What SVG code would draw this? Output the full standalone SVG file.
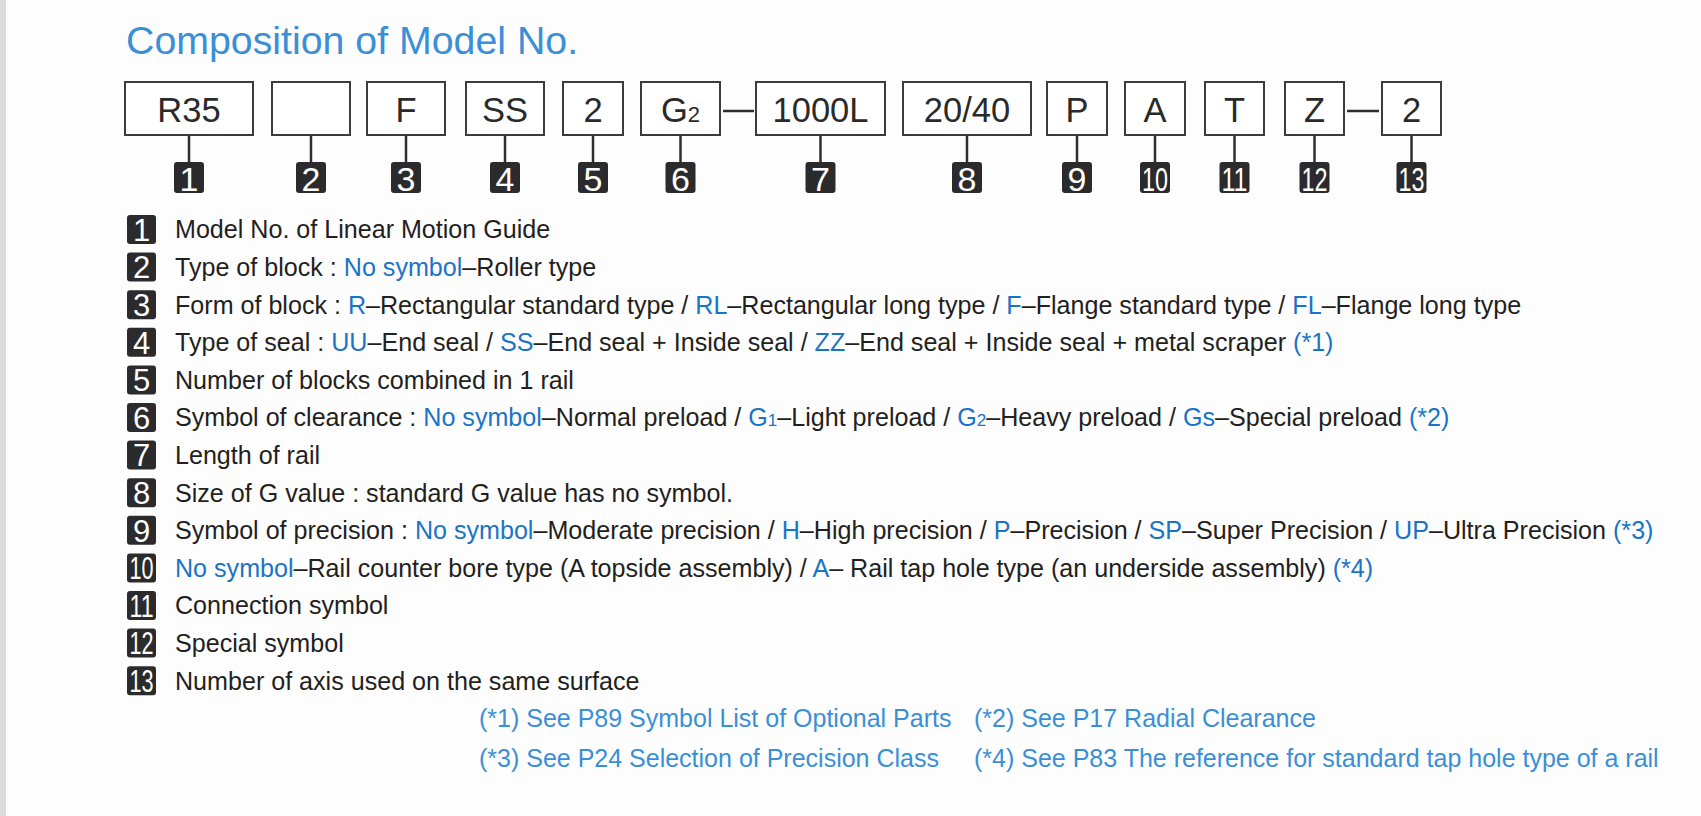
<svg xmlns="http://www.w3.org/2000/svg" width="1701" height="816" viewBox="0 0 1701 816">
<style>
.t{font-family:"Liberation Sans",Arial,sans-serif;font-size:25.1px;fill:#231f20}
.b{fill:#1a74c6}
.fn{font-family:"Liberation Sans",Arial,sans-serif;font-size:25px;fill:#3a8fd6}
.box{fill:#ffffff;stroke:#3c3c3c;stroke-width:2}
.bt{font-family:"Liberation Sans",Arial,sans-serif;font-size:34.5px;fill:#2a2a2a;text-anchor:middle}
.badge{fill:#2b2b2e}
.bn{font-family:"Liberation Sans",Arial,sans-serif;font-size:34px;fill:#ffffff;text-anchor:middle}
.ln{font-family:"Liberation Sans",Arial,sans-serif;font-size:31px;fill:#ffffff;text-anchor:middle}
.con{stroke:#2e2e2e;stroke-width:2.5;fill:none}
</style>
<rect x="0" y="0" width="1701" height="816" fill="#fdfdfd"/>
<rect x="0" y="0" width="6" height="816" fill="#dcdcdf"/>
<text x="126" y="53.5" font-family="Liberation Sans, Arial, sans-serif" font-size="39.3" fill="#3a8fd6">Composition of Model No.</text>

<g id="connectors">
<line class="con" x1="189" y1="135" x2="189" y2="162"/>
<line class="con" x1="311" y1="135" x2="311" y2="162"/>
<line class="con" x1="406" y1="135" x2="406" y2="162"/>
<line class="con" x1="505" y1="135" x2="505" y2="162"/>
<line class="con" x1="593" y1="135" x2="593" y2="162"/>
<line class="con" x1="680.5" y1="135" x2="680.5" y2="162"/>
<line class="con" x1="820.5" y1="135" x2="820.5" y2="162"/>
<line class="con" x1="967" y1="135" x2="967" y2="162"/>
<line class="con" x1="1077" y1="135" x2="1077" y2="162"/>
<line class="con" x1="1155" y1="135" x2="1155" y2="162"/>
<line class="con" x1="1234.5" y1="135" x2="1234.5" y2="162"/>
<line class="con" x1="1314.5" y1="135" x2="1314.5" y2="162"/>
<line class="con" x1="1411.5" y1="135" x2="1411.5" y2="162"/>
<line class="con" x1="723" y1="111" x2="754" y2="111"/>
<line class="con" x1="1347" y1="111" x2="1379" y2="111"/>
</g>

<g id="node1"><rect class="box" x="125" y="82" width="128" height="53"/><text class="bt" x="189" y="121.5">R35</text>
<rect class="badge" x="174" y="162" width="30" height="31" rx="3"/><text class="bn" x="189" y="190.5">1</text></g>
<g id="node2"><rect class="box" x="272" y="82" width="78" height="53"/>
<rect class="badge" x="296" y="162" width="30" height="31" rx="3"/><text class="bn" x="311" y="190.5">2</text></g>
<g id="node3"><rect class="box" x="367" y="82" width="78" height="53"/><text class="bt" x="406" y="121.5">F</text>
<rect class="badge" x="391" y="162" width="30" height="31" rx="3"/><text class="bn" x="406" y="190.5">3</text></g>
<g id="node4"><rect class="box" x="466" y="82" width="78" height="53"/><text class="bt" x="505" y="121.5">SS</text>
<rect class="badge" x="490" y="162" width="30" height="31" rx="3"/><text class="bn" x="505" y="190.5">4</text></g>
<g id="node5"><rect class="box" x="563" y="82" width="60" height="53"/><text class="bt" x="593" y="121.5">2</text>
<rect class="badge" x="578" y="162" width="30" height="31" rx="3"/><text class="bn" x="593" y="190.5">5</text></g>
<g id="node6"><rect class="box" x="641" y="82" width="79" height="53"/><text class="bt" x="680.5" y="121.5">G<tspan font-size="22">2</tspan></text>
<rect class="badge" x="665.5" y="162" width="30" height="31" rx="3"/><text class="bn" x="680.5" y="190.5">6</text></g>
<g id="node7"><rect class="box" x="756" y="82" width="129" height="53"/><text class="bt" x="820.5" y="121.5">1000L</text>
<rect class="badge" x="805.5" y="162" width="30" height="31" rx="3"/><text class="bn" x="820.5" y="190.5">7</text></g>
<g id="node8"><rect class="box" x="903" y="82" width="128" height="53"/><text class="bt" x="967" y="121.5">20/40</text>
<rect class="badge" x="952" y="162" width="30" height="31" rx="3"/><text class="bn" x="967" y="190.5">8</text></g>
<g id="node9"><rect class="box" x="1047" y="82" width="60" height="53"/><text class="bt" x="1077" y="121.5">P</text>
<rect class="badge" x="1062" y="162" width="30" height="31" rx="3"/><text class="bn" x="1077" y="190.5">9</text></g>
<g id="node10"><rect class="box" x="1125" y="82" width="60" height="53"/><text class="bt" x="1155" y="121.5">A</text>
<rect class="badge" x="1140" y="162" width="30" height="31" rx="3"/><text class="bn" x="1155" y="190.5" textLength="26" lengthAdjust="spacingAndGlyphs">10</text></g>
<g id="node11"><rect class="box" x="1205" y="82" width="59" height="53"/><text class="bt" x="1234.5" y="121.5">T</text>
<rect class="badge" x="1219.5" y="162" width="30" height="31" rx="3"/><text class="bn" x="1234.5" y="190.5" textLength="26" lengthAdjust="spacingAndGlyphs">11</text></g>
<g id="node12"><rect class="box" x="1285" y="82" width="59" height="53"/><text class="bt" x="1314.5" y="121.5">Z</text>
<rect class="badge" x="1299.5" y="162" width="30" height="31" rx="3"/><text class="bn" x="1314.5" y="190.5" textLength="26" lengthAdjust="spacingAndGlyphs">12</text></g>
<g id="node13"><rect class="box" x="1382" y="82" width="59" height="53"/><text class="bt" x="1411.5" y="121.5">2</text>
<rect class="badge" x="1396.5" y="162" width="30" height="31" rx="3"/><text class="bn" x="1411.5" y="190.5" textLength="26" lengthAdjust="spacingAndGlyphs">13</text></g>

<g id="legend">
<rect class="badge" x="127" y="215" width="29" height="29" rx="3"/><text class="ln" x="141.5" y="240.7">1</text>
<rect class="badge" x="127" y="252.6" width="29" height="29" rx="3"/><text class="ln" x="141.5" y="278.3">2</text>
<rect class="badge" x="127" y="290.2" width="29" height="29" rx="3"/><text class="ln" x="141.5" y="315.9">3</text>
<rect class="badge" x="127" y="327.8" width="29" height="29" rx="3"/><text class="ln" x="141.5" y="353.5">4</text>
<rect class="badge" x="127" y="365.4" width="29" height="29" rx="3"/><text class="ln" x="141.5" y="391.1">5</text>
<rect class="badge" x="127" y="403" width="29" height="29" rx="3"/><text class="ln" x="141.5" y="428.7">6</text>
<rect class="badge" x="127" y="440.6" width="29" height="29" rx="3"/><text class="ln" x="141.5" y="466.3">7</text>
<rect class="badge" x="127" y="478.2" width="29" height="29" rx="3"/><text class="ln" x="141.5" y="503.9">8</text>
<rect class="badge" x="127" y="515.8" width="29" height="29" rx="3"/><text class="ln" x="141.5" y="541.5">9</text>
<rect class="badge" x="127" y="553.4" width="29" height="29" rx="3"/><text class="ln" x="141.5" y="579.1" textLength="24" lengthAdjust="spacingAndGlyphs">10</text>
<rect class="badge" x="127" y="591" width="29" height="29" rx="3"/><text class="ln" x="141.5" y="616.7" textLength="24" lengthAdjust="spacingAndGlyphs">11</text>
<rect class="badge" x="127" y="628.6" width="29" height="29" rx="3"/><text class="ln" x="141.5" y="654.3" textLength="24" lengthAdjust="spacingAndGlyphs">12</text>
<rect class="badge" x="127" y="666.2" width="29" height="29" rx="3"/><text class="ln" x="141.5" y="691.9" textLength="24" lengthAdjust="spacingAndGlyphs">13</text>

<text class="t" x="175" y="238.3">Model No. of Linear Motion Guide</text>
<text class="t" x="175" y="275.9">Type of block : <tspan class="b">No symbol</tspan>–Roller type</text>
<text class="t" x="175" y="313.5">Form of block : <tspan class="b">R</tspan>–Rectangular standard type / <tspan class="b">RL</tspan>–Rectangular long type / <tspan class="b">F</tspan>–Flange standard type / <tspan class="b">FL</tspan>–Flange long type</text>
<text class="t" x="175" y="351.1">Type of seal : <tspan class="b">UU</tspan>–End seal / <tspan class="b">SS</tspan>–End seal + Inside seal / <tspan class="b">ZZ</tspan>–End seal + Inside seal + metal scraper <tspan class="b">(*1)</tspan></text>
<text class="t" x="175" y="388.7">Number of blocks combined in 1 rail</text>
<text class="t" x="175" y="426.3">Symbol of clearance : <tspan class="b">No symbol</tspan>–Normal preload / <tspan class="b">G<tspan font-size="17">1</tspan></tspan>–Light preload / <tspan class="b">G<tspan font-size="17">2</tspan></tspan>–Heavy preload / <tspan class="b">Gs</tspan>–Special preload <tspan class="b">(*2)</tspan></text>
<text class="t" x="175" y="463.9">Length of rail</text>
<text class="t" x="175" y="501.5">Size of G value : standard G value has no symbol.</text>
<text class="t" x="175" y="539.1">Symbol of precision : <tspan class="b">No symbol</tspan>–Moderate precision / <tspan class="b">H</tspan>–High precision / <tspan class="b">P</tspan>–Precision / <tspan class="b">SP</tspan>–Super Precision / <tspan class="b">UP</tspan>–Ultra Precision <tspan class="b">(*3)</tspan></text>
<text class="t" x="175" y="576.7"><tspan class="b">No symbol</tspan>–Rail counter bore type (A topside assembly) / <tspan class="b">A</tspan>– Rail tap hole type (an underside assembly) <tspan class="b">(*4)</tspan></text>
<text class="t" x="175" y="614.3">Connection symbol</text>
<text class="t" x="175" y="651.9">Special symbol</text>
<text class="t" x="175" y="689.5">Number of axis used on the same surface</text>
</g>

<g id="footnotes">
<text class="fn" x="479" y="727">(*1) See P89 Symbol List of Optional Parts</text>
<text class="fn" x="974" y="727">(*2) See P17 Radial Clearance</text>
<text class="fn" x="479" y="767">(*3) See P24 Selection of Precision Class</text>
<text class="fn" x="974" y="767">(*4) See P83 The reference for standard tap hole type of a rail</text>
</g>
</svg>
